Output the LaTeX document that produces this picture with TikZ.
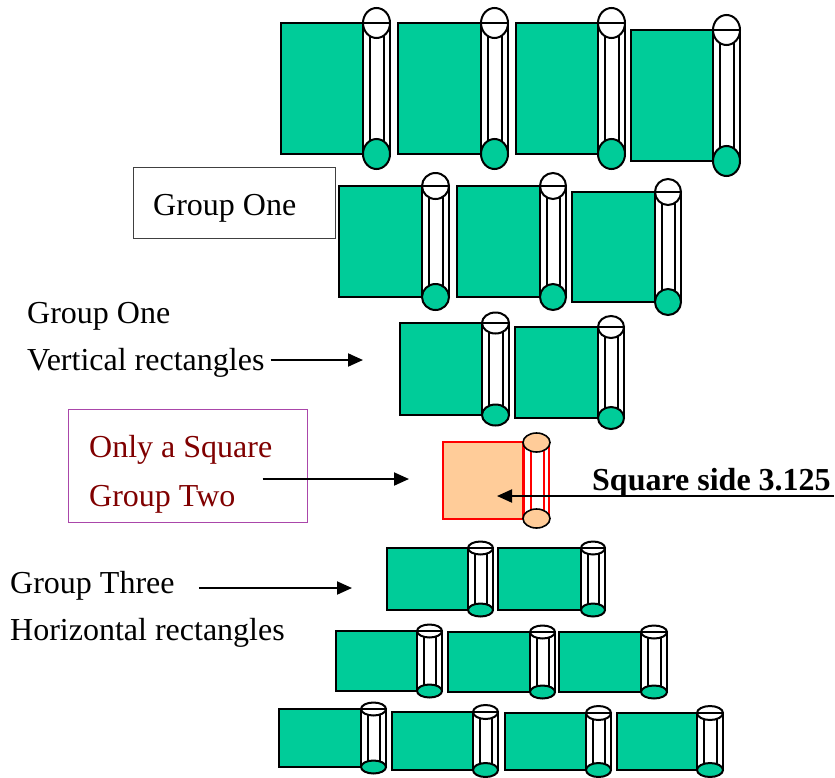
\documentclass[tikz,border=0pt]{standalone}
\usepackage{fontspec}
\setmainfont{Liberation Serif}
\usetikzlibrary{arrows.meta}
\definecolor{grn}{RGB}{0,204,153}
\definecolor{peach}{RGB}{255,204,153}
\definecolor{dred}{RGB}{128,0,0}
\definecolor{purp}{RGB}{170,70,170}
\tikzset{
  rectline/.style={draw=black, line width=2.4pt},
  cylline/.style={draw=black, line width=2pt},
  arr/.style={line width=2pt, -{Triangle[length=15pt,width=13pt]}},
  lbl/.style={anchor=base west, inner sep=0pt, font=\fontsize{32}{38}\selectfont},
}
\newcommand\vunit[6]{%
  \pgfmathsetmacro\ucx{(#2+#3)/2}%
  \pgfmathsetmacro\urx{(#3-#2)/2}%
  \filldraw[fill=grn, rectline] (#1,#4) rectangle (#2,#5);
  \filldraw[fill=white, cylline] (#2,#4) rectangle (#3,#5);
  \draw[cylline] (#2+7,#4) -- (#2+7,#5) (#3-6,#4) -- (#3-6,#5);
  \filldraw[fill=white, cylline] (\ucx,#4) ellipse [x radius=\urx pt, y radius=#6pt];
  \draw[cylline] (#2,#4) -- (#3,#4);
  \filldraw[fill=grn, cylline] (\ucx,#5) ellipse [x radius=\urx pt, y radius=#6pt];
}
\begin{document}
\begin{tikzpicture}[x=1pt, y=-1pt]
\useasboundingbox[fill=white] (0,0) rectangle (835,777);
% Group One rows
\vunit{281}{363}{390}{23}{154}{15}
\vunit{398}{481}{508}{23}{154}{15}
\vunit{516}{598}{625}{23}{154}{15}
\vunit{631}{713}{740}{30}{161}{15}
\vunit{339}{422}{449}{186}{297}{13}
\vunit{457}{540}{566}{186}{297}{13}
\vunit{572}{655}{681}{192}{302}{13}
\vunit{400}{482}{509}{323}{415}{10.5}
\vunit{515}{598}{624}{327}{418}{11}
% Group Three rows
\vunit{387}{468}{493}{548}{610}{6.5}
\vunit{498}{581}{605}{548}{610}{6.5}
\vunit{336}{417}{442}{631}{691}{6.5}
\vunit{448}{530}{555}{632}{692}{6.5}
\vunit{559}{641}{667}{632}{692}{6.5}
\vunit{279}{361}{386}{709}{767}{6.5}
\vunit{392}{473}{498}{712}{770}{7}
\vunit{505}{586}{611}{713}{770}{7}
\vunit{617}{697}{723}{713}{770}{7}
% Group Two square
\filldraw[fill=peach, draw=red, line width=1.2pt] (443,442) rectangle (523,519);
\fill[white] (523,442.5) rectangle (550,518.5);
\draw[red, line width=1.5pt] (524,442.5) -- (524,518.5) (531,442.5) -- (531,518.5)
  (544,442.5) -- (544,518.5) (549,442.5) -- (549,518.5);
\filldraw[fill=peach, draw=black, line width=1.6pt] (536.5,442.5) ellipse [x radius=13.5pt, y radius=9.5pt];
\filldraw[fill=peach, draw=black, line width=1.6pt] (536.5,518.5) ellipse [x radius=13.5pt, y radius=9.5pt];
% labels
\draw[draw=black!75, line width=1pt] (133,167) rectangle (335,238);
\node[lbl] (g1box) at (153,215) {Group One};
\node[lbl] (g1a) at (27,323) {Group One};
\node[lbl] (g1b) at (27,370) {Vertical rectangles};
\coordinate (a1) at (363,360);
\draw[arr] ([xshift=6pt,yshift=10pt]g1b.base east) -- (a1);
\draw[draw=purp, line width=1pt] (68,409) rectangle (307,522);
\node[lbl, text=dred] (g2a) at (89,457) {Only a Square};
\node[lbl, text=dred] (g2b) at (89,506) {Group Two};
\coordinate (a2) at (409,479);
\draw[arr] ([xshift=27pt,yshift=27pt]g2b.base east) -- (a2);
\node[lbl, font=\fontsize{32}{38}\selectfont\bfseries] (sq) at (592,490) {Square side 3.125};
\coordinate (a3s) at (834,496);
\coordinate (a3) at (497,496);
\draw[arr] (a3s) -- (a3);
\node[lbl] (g3a) at (10,593) {Group Three};
\node[lbl] (g3b) at (10,640) {Horizontal rectangles};
\coordinate (a4) at (352,588);
\draw[arr] ([xshift=24pt,yshift=5pt]g3a.base east) -- (a4);
\end{tikzpicture}
\end{document}
